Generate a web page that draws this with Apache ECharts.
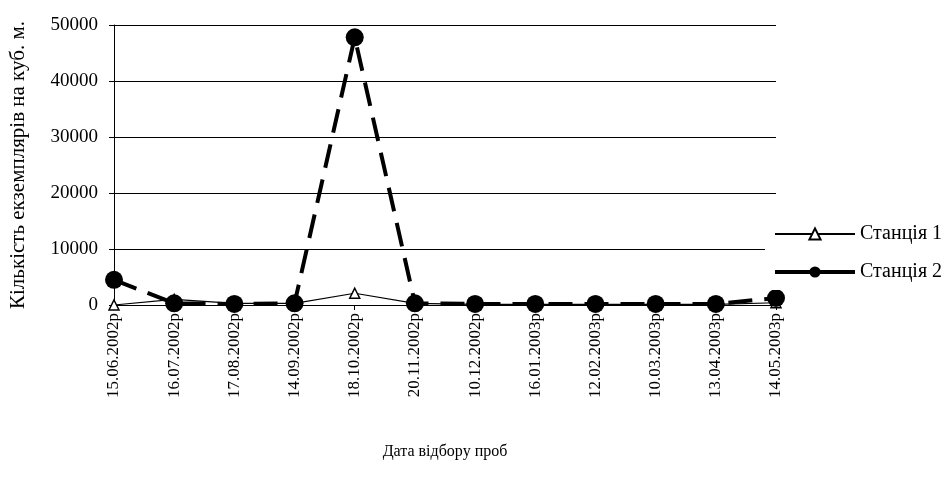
<!DOCTYPE html>
<html>
<head>
<meta charset="utf-8">
<script src="https://cdn.jsdelivr.net/npm/echarts@6/dist/echarts.min.js"></script>
<style>
html,body{margin:0;padding:0;background:#fff;}
#chart{width:951px;height:487px;}
</style>
</head>
<body>
<div id="chart"></div>
<script>
const categories = ['15.06.2002р','16.07.2002р','17.08.2002р','14.09.2002р','18.10.2002р','20.11.2002р','10.12.2002р','16.01.2003р','12.02.2003р','10.03.2003р','13.04.2003р','14.05.2003р'];
const station1 = [0, 1000, 300, 300, 2100, 300, 100, 100, 100, 100, 100, 400];
const station2 = [4500, 300, 200, 300, 47800, 300, 200, 200, 200, 200, 200, 1250];
const seriesNames = ['Станція 1', 'Станція 2'];
const yTicks = { min: 0, max: 50000, interval: 10000 };

const FONT = 'Liberation Serif';
const chart = echarts.init(document.getElementById('chart'), null, {renderer: 'canvas'});
chart.setOption({
  backgroundColor: '#fff',
  animation: false,
  textStyle: { fontFamily: FONT, color: '#000' },
  grid: { left: 113, right: 175, top: 25, bottom: 182, containLabel: false },
  legend: {
    orient: 'vertical',
    left: 765,
    top: 216,
    padding: [8, 4, 8, 8],
    backgroundColor: '#fff',
    itemWidth: 80,
    itemHeight: 14,
    itemGap: 18,
    textStyle: { fontFamily: FONT, fontSize: 20, color: '#000' },
    data: [
      { name: seriesNames[0] },
      { name: seriesNames[1], lineStyle: { type: 'solid', width: 4 } }
    ]
  },
  xAxis: {
    type: 'category',
    data: categories,
    boundaryGap: false,
    name: 'Дата відбору проб',
    nameLocation: 'middle',
    nameGap: 139,
    nameTextStyle: { fontFamily: FONT, fontSize: 16, color: '#000' },
    axisLine: { lineStyle: { color: '#000', width: 1 } },
    axisTick: { show: true, length: 5, lineStyle: { color: '#000' } },
    axisLabel: { rotate: 90, margin: 8, fontFamily: FONT, fontSize: 17, color: '#000', interval: 0 },
    splitLine: { show: false }
  },
  yAxis: {
    type: 'value',
    min: yTicks.min,
    max: yTicks.max,
    interval: yTicks.interval,
    name: 'Кількість екземплярів на куб. м.',
    nameLocation: 'middle',
    nameGap: 85,
    nameTextStyle: { fontFamily: FONT, fontSize: 21, color: '#000' },
    axisLine: { show: true, lineStyle: { color: '#000', width: 1 } },
    axisTick: { show: true, length: 5, lineStyle: { color: '#000' } },
    axisLabel: { margin: 16, fontFamily: FONT, fontSize: 19, color: '#000', formatter: function (v) { return String(v); } },
    splitLine: { show: true, lineStyle: { color: '#000', width: 1 } }
  },
  series: [
    {
      name: seriesNames[0],
      type: 'line',
      data: station1,
      symbol: 'triangle',
      symbolSize: 10,
      showAllSymbol: true,
      lineStyle: { color: '#000', width: 1.2 },
      itemStyle: { color: '#fff', borderColor: '#000', borderWidth: 1.5 },
      z: 2
    },
    {
      name: seriesNames[1],
      type: 'line',
      data: station2,
      symbol: 'circle',
      symbolSize: 18,
      showAllSymbol: true,
      lineStyle: { color: '#000', width: 4, type: [24, 12] },
      itemStyle: { color: '#000', borderColor: '#000', borderWidth: 0 },
      z: 3
    }
  ]
});
</script>
</body>
</html>
